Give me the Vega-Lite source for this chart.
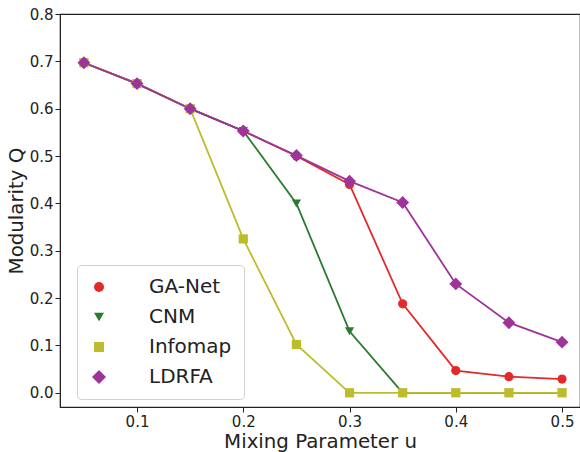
{
  "$schema": "https://vega.github.io/schema/vega-lite/v6.json",
  "autosize": "none",
  "width": 520,
  "height": 393,
  "padding": {"left": 60, "top": 14, "right": 0, "bottom": 45},
  "background": "white",
  "config": {
    "font": "DejaVu Sans",
    "view": {"stroke": "#222", "strokeWidth": 1.2},
    "axis": {
      "domainColor": "#222",
      "tickColor": "#222",
      "labelColor": "#222",
      "titleColor": "#222",
      "labelFont": "DejaVu Sans",
      "titleFont": "DejaVu Sans",
      "labelFontSize": 15,
      "titleFontSize": 19.8,
      "titleFontWeight": "normal",
      "tickSize": 5,
      "labelPadding": 2,
      "grid": false
    }
  },
  "data": {
    "values": [
      {"series": "GA-Net", "u": 0.05, "Q": 0.697},
      {"series": "GA-Net", "u": 0.10, "Q": 0.653},
      {"series": "GA-Net", "u": 0.15, "Q": 0.600},
      {"series": "GA-Net", "u": 0.20, "Q": 0.553},
      {"series": "GA-Net", "u": 0.25, "Q": 0.500},
      {"series": "GA-Net", "u": 0.30, "Q": 0.440},
      {"series": "GA-Net", "u": 0.35, "Q": 0.188},
      {"series": "GA-Net", "u": 0.40, "Q": 0.047},
      {"series": "GA-Net", "u": 0.45, "Q": 0.034},
      {"series": "GA-Net", "u": 0.50, "Q": 0.029},
      {"series": "CNM", "u": 0.05, "Q": 0.697},
      {"series": "CNM", "u": 0.10, "Q": 0.653},
      {"series": "CNM", "u": 0.15, "Q": 0.600},
      {"series": "CNM", "u": 0.20, "Q": 0.553},
      {"series": "CNM", "u": 0.25, "Q": 0.400},
      {"series": "CNM", "u": 0.30, "Q": 0.130},
      {"series": "CNM", "u": 0.35, "Q": 0.0},
      {"series": "CNM", "u": 0.40, "Q": 0.0},
      {"series": "CNM", "u": 0.45, "Q": 0.0},
      {"series": "CNM", "u": 0.50, "Q": 0.0},
      {"series": "Infomap", "u": 0.05, "Q": 0.697},
      {"series": "Infomap", "u": 0.10, "Q": 0.653},
      {"series": "Infomap", "u": 0.15, "Q": 0.600},
      {"series": "Infomap", "u": 0.20, "Q": 0.325},
      {"series": "Infomap", "u": 0.25, "Q": 0.102},
      {"series": "Infomap", "u": 0.30, "Q": 0.0},
      {"series": "Infomap", "u": 0.35, "Q": 0.0},
      {"series": "Infomap", "u": 0.40, "Q": 0.0},
      {"series": "Infomap", "u": 0.45, "Q": 0.0},
      {"series": "Infomap", "u": 0.50, "Q": 0.0},
      {"series": "LDRFA", "u": 0.05, "Q": 0.697},
      {"series": "LDRFA", "u": 0.10, "Q": 0.653},
      {"series": "LDRFA", "u": 0.15, "Q": 0.600},
      {"series": "LDRFA", "u": 0.20, "Q": 0.553},
      {"series": "LDRFA", "u": 0.25, "Q": 0.501},
      {"series": "LDRFA", "u": 0.30, "Q": 0.447},
      {"series": "LDRFA", "u": 0.35, "Q": 0.402},
      {"series": "LDRFA", "u": 0.40, "Q": 0.230},
      {"series": "LDRFA", "u": 0.45, "Q": 0.148},
      {"series": "LDRFA", "u": 0.50, "Q": 0.107}
    ]
  },
  "encoding": {
    "x": {
      "field": "u", "type": "quantitative",
      "scale": {"domain": [0.0275, 0.5169], "nice": false, "zero": false},
      "axis": {"values": [0.1, 0.2, 0.3, 0.4, 0.5], "format": ".1f", "title": "Mixing Parameter u", "titlePadding": 2}
    },
    "y": {
      "field": "Q", "type": "quantitative",
      "scale": {"domain": [-0.03, 0.8], "nice": false, "zero": false},
      "axis": {"values": [0, 0.1, 0.2, 0.3, 0.4, 0.5, 0.6, 0.7, 0.8], "format": ".1f", "title": "Modularity Q", "titlePadding": 3}
    }
  },
  "layer": [
    {
      "mark": {"type": "line", "strokeWidth": 1.8},
      "encoding": {
        "stroke": {
          "field": "series", "type": "nominal",
          "scale": {
            "range": ["#2a7a30", "#e32a2a", "#bdbd2c", "#9c3499"]
          },
          "legend": null
        }
      }
    },
    {
      "mark": {"type": "point", "filled": true, "opacity": 1, "size": 85},
      "encoding": {
        "color": {
          "field": "series", "type": "nominal",
          "scale": {
            "domain": ["GA-Net", "CNM", "Infomap", "LDRFA"],
            "range": ["#e32a2a", "#2a7a30", "#bdbd2c", "#9c3499"]
          },
          "legend": {
            "title": null,
            "orient": "none",
            "legendX": 17,
            "legendY": 251,
            "padding": 12,
            "strokeColor": "#d0d0d0",
            "fillColor": "white",
            "cornerRadius": 4,
            "symbolSize": 100,
            "labelFontSize": 20,
            "labelFont": "DejaVu Sans",
            "labelColor": "#222",
            "labelOffset": 40,
            "rowPadding": 10
          }
        },
        "shape": {
          "field": "series", "type": "nominal",
          "scale": {
            "domain": ["GA-Net", "CNM", "Infomap", "LDRFA"],
            "range": ["circle", "triangle-down", "square", "M0,-1.4L1.4,0L0,1.4L-1.4,0Z"]
          },
          "legend": {
            "title": null,
            "orient": "none",
            "legendX": 17,
            "legendY": 251,
            "padding": 12,
            "strokeColor": "#d0d0d0",
            "fillColor": "white",
            "cornerRadius": 4,
            "symbolSize": 100,
            "labelFontSize": 20,
            "labelFont": "DejaVu Sans",
            "labelColor": "#222",
            "labelOffset": 40,
            "rowPadding": 10
          }
        }
      }
    }
  ]
}
